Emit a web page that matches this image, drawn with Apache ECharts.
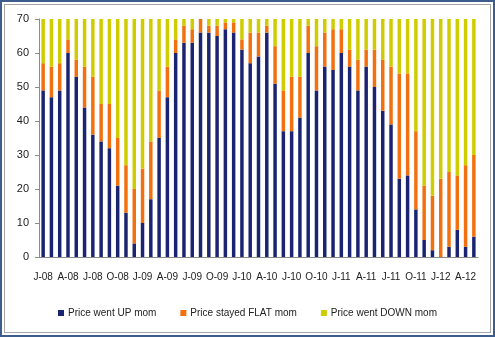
<!DOCTYPE html>
<html>
<head>
<meta charset="utf-8">
<script src="https://cdn.jsdelivr.net/npm/echarts@6/dist/echarts.min.js"></script>
<style>
  html, body { margin: 0; padding: 0; background: #fff; }
  #frame {
    position: absolute; left: 0; top: 0; width: 495px; height: 337px;
    box-sizing: border-box; border: 2px solid #3d5d8c; background: #fff;
  }
  #inner {
    position: absolute; left: 2px; top: 2px; right: 2px; bottom: 2px;
    border: 1px solid #a6a6a6;
  }
  #chart { position: absolute; left: 0; top: 0; width: 495px; height: 337px; }
</style>
</head>
<body>
<div id="frame"><div id="inner"></div></div>
<div id="chart"></div>
<script>
// Monthly survey, Jan 2008 – May 2012 (70 respondents each month)
const months = [
  'J-08','F-08','M-08','A-08','M-08','J-08','J-08','A-08','S-08','O-08','N-08','D-08',
  'J-09','F-09','M-09','A-09','M-09','J-09','J-09','A-09','S-09','O-09','N-09','D-09',
  'J-10','F-10','M-10','A-10','M-10','J-10','J-10','A-10','S-10','O-10','N-10','D-10',
  'J-11','F-11','M-11','A-11','M-11','J-11','J-11','A-11','S-11','O-11','N-11','D-11',
  'J-12','F-12','M-12','A-12','M-12'
];

const priceUp = [
  49,47,49,60,53,44,36,34,32,21,13,4,
  10,17,35,47,60,63,63,66,66,65,67,66,
  61,57,59,66,51,37,37,41,60,49,56,55,
  60,56,49,56,50,43,39,23,24,14,5,2,
  0,3,8,3,6
];

const priceFlat = [
  8,9,8,4,5,12,17,11,13,14,14,16,
  16,17,14,9,4,5,4,4,2,3,2,3,
  3,9,7,2,11,12,16,12,8,13,10,12,
  7,5,9,5,11,15,17,31,30,23,16,16,
  23,22,16,24,24
];

const priceDown = [
  13,14,13,6,12,14,17,25,25,35,43,50,
  44,36,21,14,6,2,3,0,2,2,1,1,
  6,4,4,2,8,21,17,17,2,8,4,3,
  3,9,12,9,9,12,14,16,16,33,49,52,
  47,45,46,43,40
];

const seriesNames = ['Price went UP mom', 'Price stayed FLAT mom', 'Price went DOWN mom'];
const seriesColors = ['#1b2470', '#f2700f', '#cfcc00'];
const yTicks = { min: 0, max: 70, interval: 10 };

const font = 'Liberation Sans, Arial, sans-serif';
const chart = echarts.init(document.getElementById('chart'), null, { renderer: 'canvas' });

chart.setOption({
  animation: false,
  textStyle: { fontFamily: font },
  grid: { left: 39, right: 17, top: 19, bottom: 80, containLabel: false },
  legend: {
    bottom: 14,
    left: 'center',
    itemWidth: 6,
    itemHeight: 6,
    itemGap: 24,
    icon: 'rect',
    textStyle: { fontFamily: font, fontSize: 10, color: '#222', padding: [0, 0, 0, -1] },
    data: seriesNames
  },
  xAxis: {
    type: 'category',
    data: months,
    boundaryGap: true,
    axisLine: { lineStyle: { color: '#8c8c8c', width: 1 } },
    axisTick: { interval: 2, length: 4, lineStyle: { color: '#8c8c8c' } },
    axisLabel: { interval: 2, fontSize: 10, color: '#222', margin: 15, fontFamily: font }
  },
  yAxis: {
    type: 'value',
    min: yTicks.min,
    max: yTicks.max,
    interval: yTicks.interval,
    splitLine: { show: false },
    axisLine: { show: true, lineStyle: { color: '#8c8c8c', width: 1 } },
    axisTick: { show: true, length: 4, lineStyle: { color: '#8c8c8c' } },
    axisLabel: { fontSize: 11, color: '#222', margin: 10, fontFamily: font }
  },
  series: [priceUp, priceFlat, priceDown].map((vals, i) => ({
    name: seriesNames[i],
    type: 'bar',
    stack: 'total',
    barWidth: '42%',
    itemStyle: { color: seriesColors[i] },
    data: vals
  }))
});
</script>
</body>
</html>
